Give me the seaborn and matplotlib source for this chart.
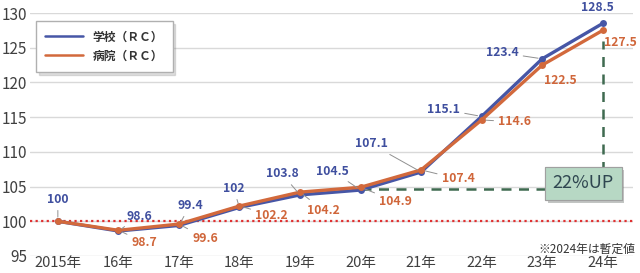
import matplotlib
matplotlib.use("Agg")
import matplotlib.pyplot as plt
import matplotlib.patheffects as pe
import seaborn as sns
import pandas as pd

years = ["2015年", "16年", "17年", "18年", "19年", "20年", "21年", "22年", "23年", "24年"]
school = [100, 98.6, 99.4, 102, 103.8, 104.5, 107.1, 115.1, 123.4, 128.5]
hospital = [100, 98.7, 99.6, 102.2, 104.2, 104.9, 107.4, 114.6, 122.5, 127.5]
series_names = ["学校（ＲＣ）", "病院（ＲＣ）"]
yticks = [95, 100, 105, 110, 115, 120, 125, 130]
up_label = "22%UP"
note = "※2024年は暫定値"

BLUE = "#4656a6"
ORANGE = "#d2693c"

sns.set_theme(style="white")
plt.rcParams["font.family"] = ["Noto Sans CJK JP", "DejaVu Sans"]

df = pd.DataFrame({
    "x": list(range(len(years))) * 2,
    "v": school + hospital,
    "s": [series_names[0]] * len(years) + [series_names[1]] * len(years),
})

fig = plt.figure(figsize=(6.4, 2.73), dpi=100)
ax = fig.add_axes([30 / 640, 1 - 256 / 273, 603 / 640, 243 / 273])

for y in yticks:
    ax.axhline(y, color="#d9d9d9", lw=1, zorder=0)
ax.axhline(100, color="#e03030", lw=1.6, ls=(0, (1, 1.5)), zorder=1)

sns.lineplot(data=df, x="x", y="v", hue="s", palette=[BLUE, ORANGE],
             marker="o", markersize=5, markeredgewidth=0, lw=2.4, ax=ax,
             zorder=3)

# green dashed reference
base = 104.7
ax.plot([5, 9], [base, base], color="#3f6a50", lw=1.8, ls=(0, (4, 3)), zorder=2)
ax.plot([9, 9], [base, 126.0], color="#3f6a50", lw=1.8, ls=(0, (4, 3)), zorder=2)

t = ax.text(8.68, 105.45, up_label, ha="center", va="center", fontsize=13,
            color="#2f4650", zorder=6,
            bbox=dict(boxstyle="square,pad=0.42", fc="#b7d8c4", ec="#a0a0a0", lw=0.8))
t.get_bbox_patch().set_path_effects([pe.withSimplePatchShadow(offset=(2, -2), alpha=0.3), pe.Normal()])

# data labels
blue_off = [(0, 22), (21, 15), (11, 20), (-6, 19), (-18, 21), (-28, 19), (-50, 28), (-38, 7), (-40, 6), (-5, 16)]
blue_lead = [True, True, True, True, True, True, True, True, True, False]
orange_off = [None, (26, -12), (26, -14), (32, -9), (23, -18), (35, -14), (37, -9), (33, -2), (18, -15), (18, -12)]
orange_lead = [False, True, True, True, True, True, True, True, False, False]

def fmt(v):
    return str(int(v)) if float(v).is_integer() else f"{v:.1f}"

for i, v in enumerate(school):
    ap = dict(arrowstyle="-", color="#909090", lw=0.7, shrinkA=1, shrinkB=3) if blue_lead[i] else None
    ax.annotate(fmt(v), xy=(i, v), xytext=blue_off[i], textcoords="offset pixels",
                ha="center", va="center", fontsize=8.8, fontweight="bold",
                color="#3f4f9f", arrowprops=ap, zorder=5)
for i, v in enumerate(hospital):
    if orange_off[i] is None:
        continue
    ap = dict(arrowstyle="-", color="#909090", lw=0.7, shrinkA=1, shrinkB=3) if orange_lead[i] else None
    ax.annotate(fmt(v), xy=(i, v), xytext=orange_off[i], textcoords="offset pixels",
                ha="center", va="center", fontsize=8.8, fontweight="bold",
                color="#d0663a", arrowprops=ap, zorder=5)

ax.text(8.74, 95.98, note, ha="center", va="center", fontsize=8.5, color="#333333")

ax.set_xlim(-0.46, 9.5)
ax.set_ylim(95, 130)
ax.set_yticks(yticks)
ax.set_xticks(range(len(years)))
ax.set_xticklabels(years)
ax.set_xlabel("")
ax.set_ylabel("")
ax.tick_params(axis="y", labelsize=11, colors="#404040", length=0, pad=2)
ax.tick_params(axis="x", labelsize=10.5, colors="#404040", length=0, pad=0)
for s in ax.spines.values():
    s.set_visible(False)

h, l = ax.get_legend_handles_labels()
leg = ax.legend(h, l, loc="upper left", bbox_to_anchor=(0.01, 0.967), borderaxespad=0,
                frameon=True, fancybox=False, shadow={"color": "0.5", "alpha": 0.25},
                fontsize=8.5, edgecolor="#b0b0b0", handlelength=3.2, borderpad=0.8,
                labelspacing=0.5)
for line in leg.get_lines():
    line.set_marker("")
    line.set_linewidth(1.8)
for txt in leg.get_texts():
    txt.set_fontweight("bold")
    txt.set_color("#333333")

fig.savefig("out.png", dpi=100)
